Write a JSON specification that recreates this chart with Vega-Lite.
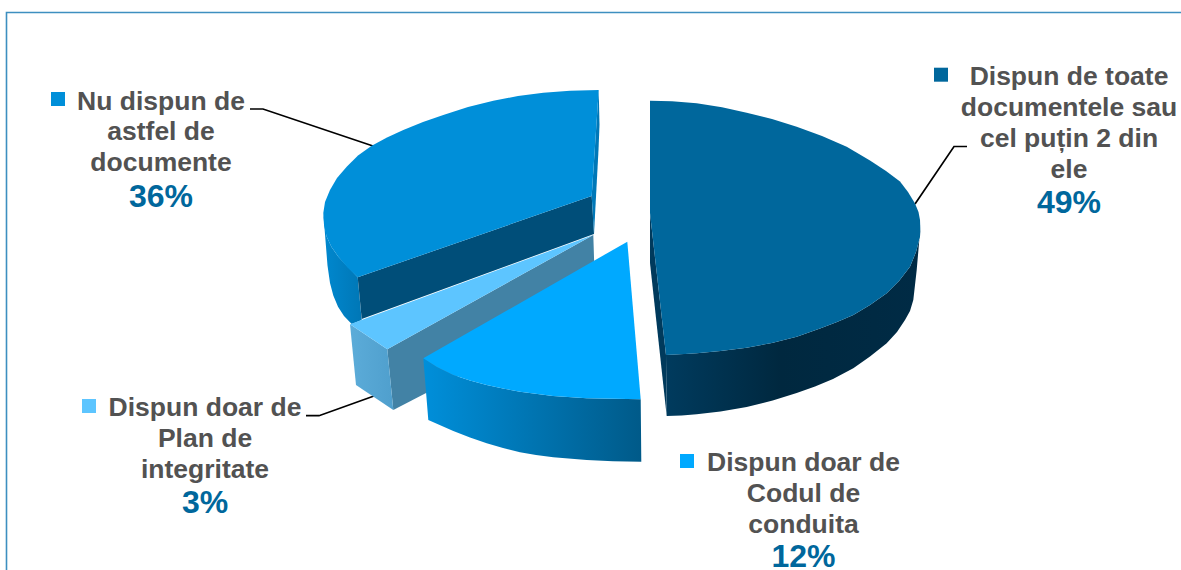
{
  "$schema": "https://vega.github.io/schema/vega-lite/v6.json",
  "width": 1181,
  "height": 570,
  "padding": 0,
  "autosize": {"type": "none"},
  "background": "white",
  "view": {"stroke": null},
  "datasets": {
    "outlines": [
      {"face":"frame","step":0,"x":6.5,"y":570},{"face":"frame","step":1,"x":6.5,"y":12.5},{"face":"frame","step":2,"x":1181,"y":12.5},
      {"face":"lead36","step":0,"x":250,"y":109},{"face":"lead36","step":1,"x":263,"y":109},{"face":"lead36","step":2,"x":373,"y":146},
      {"face":"lead49","step":0,"x":967,"y":146.5},{"face":"lead49","step":1,"x":954,"y":146.5},{"face":"lead49","step":2,"x":915,"y":204},
      {"face":"lead3","step":0,"x":306,"y":415.7},{"face":"lead3","step":1,"x":319,"y":415.7},{"face":"lead3","step":2,"x":374,"y":396},

      {"face":"w36out","step":0,"x":323.3,"y":213},{"face":"w36out","step":1,"x":326.7,"y":236.7},{"face":"w36out","step":2,"x":331.5,"y":247},{"face":"w36out","step":3,"x":338.3,"y":256.7},{"face":"w36out","step":4,"x":357.7,"y":277.3},{"face":"w36out","step":5,"x":361.7,"y":320},{"face":"w36out","step":6,"x":351.7,"y":324},{"face":"w36out","step":7,"x":344,"y":316},{"face":"w36out","step":8,"x":338,"y":306.7},{"face":"w36out","step":9,"x":333.3,"y":295.5},{"face":"w36out","step":10,"x":330,"y":283},{"face":"w36out","step":11,"x":327.5,"y":265.5},{"face":"w36out","step":12,"x":326,"y":246.7},

      {"face":"w36in","step":0,"x":357.7,"y":277.3},{"face":"w36in","step":1,"x":591.7,"y":196},{"face":"w36in","step":2,"x":594,"y":234},{"face":"w36in","step":3,"x":361.7,"y":319},

      {"face":"w36side","step":0,"x":598.7,"y":90},{"face":"w36side","step":1,"x":599.5,"y":125},{"face":"w36side","step":2,"x":598.5,"y":150},{"face":"w36side","step":3,"x":594,"y":234},{"face":"w36side","step":4,"x":591.7,"y":196},

      {"face":"t36","step":0,"x":598.7,"y":90},{"face":"t36","step":1,"x":570,"y":90.8},{"face":"t36","step":2,"x":543.3,"y":92.7},{"face":"t36","step":3,"x":518,"y":96},{"face":"t36","step":4,"x":493.3,"y":100.7},{"face":"t36","step":5,"x":468,"y":107},{"face":"t36","step":6,"x":443.3,"y":115},{"face":"t36","step":7,"x":423,"y":122},{"face":"t36","step":8,"x":403.3,"y":130},{"face":"t36","step":9,"x":387,"y":137.5},{"face":"t36","step":10,"x":371.7,"y":145.7},{"face":"t36","step":11,"x":358,"y":155.5},{"face":"t36","step":12,"x":346.7,"y":166.7},{"face":"t36","step":13,"x":337,"y":178},{"face":"t36","step":14,"x":330,"y":190},{"face":"t36","step":15,"x":325,"y":202},{"face":"t36","step":16,"x":323.3,"y":213},{"face":"t36","step":17,"x":324,"y":225},{"face":"t36","step":18,"x":326.7,"y":236.7},{"face":"t36","step":19,"x":331.5,"y":247},{"face":"t36","step":20,"x":338.3,"y":256.7},{"face":"t36","step":21,"x":347.5,"y":267.5},{"face":"t36","step":22,"x":357.7,"y":277.3},{"face":"t36","step":23,"x":591.7,"y":196},

      {"face":"w3right","step":0,"x":387.3,"y":349.3},{"face":"w3right","step":1,"x":593.3,"y":235},{"face":"w3right","step":2,"x":595.5,"y":305},{"face":"w3right","step":3,"x":393.3,"y":410},

      {"face":"w3front","step":0,"x":350,"y":324.3},{"face":"w3front","step":1,"x":387.3,"y":349.3},{"face":"w3front","step":2,"x":393.3,"y":410},{"face":"w3front","step":3,"x":356,"y":385},

      {"face":"t3","step":0,"x":350,"y":324.3},{"face":"t3","step":1,"x":593.3,"y":235},{"face":"t3","step":2,"x":387.3,"y":349.3},

      {"face":"w12front","step":0,"x":423.3,"y":358.3},{"face":"w12front","step":1,"x":437,"y":367},{"face":"w12front","step":2,"x":453.3,"y":375},{"face":"w12front","step":3,"x":470,"y":380.5},{"face":"w12front","step":4,"x":486.7,"y":385},{"face":"w12front","step":5,"x":503,"y":388.5},{"face":"w12front","step":6,"x":520,"y":391.7},{"face":"w12front","step":7,"x":553,"y":396},{"face":"w12front","step":8,"x":586.7,"y":398.3},{"face":"w12front","step":9,"x":640.7,"y":399.3},{"face":"w12front","step":10,"x":641.3,"y":461.7},{"face":"w12front","step":11,"x":613,"y":461.2},{"face":"w12front","step":12,"x":586.7,"y":460},{"face":"w12front","step":13,"x":553.3,"y":457.3},{"face":"w12front","step":14,"x":536,"y":455},{"face":"w12front","step":15,"x":520,"y":452.3},{"face":"w12front","step":16,"x":503,"y":448},{"face":"w12front","step":17,"x":486.7,"y":443.3},{"face":"w12front","step":18,"x":470,"y":437.5},{"face":"w12front","step":19,"x":453.3,"y":431},{"face":"w12front","step":20,"x":428.3,"y":420},

      {"face":"t12","step":0,"x":423.3,"y":358.3},{"face":"t12","step":1,"x":627.3,"y":241.7},{"face":"t12","step":2,"x":640.7,"y":399.3},{"face":"t12","step":3,"x":586.7,"y":398.3},{"face":"t12","step":4,"x":553,"y":396},{"face":"t12","step":5,"x":520,"y":391.7},{"face":"t12","step":6,"x":503,"y":388.5},{"face":"t12","step":7,"x":486.7,"y":385},{"face":"t12","step":8,"x":470,"y":380.5},{"face":"t12","step":9,"x":453.3,"y":375},{"face":"t12","step":10,"x":437,"y":367},

      {"face":"w49side","step":0,"x":650,"y":213},{"face":"w49side","step":1,"x":650,"y":263},{"face":"w49side","step":2,"x":666.7,"y":416},{"face":"w49side","step":3,"x":666,"y":355},

      {"face":"w49front","step":0,"x":920.3,"y":228},{"face":"w49front","step":1,"x":920,"y":236.7},{"face":"w49front","step":2,"x":916,"y":252},{"face":"w49front","step":3,"x":910,"y":266.7},{"face":"w49front","step":4,"x":899,"y":281},{"face":"w49front","step":5,"x":886.7,"y":293.3},{"face":"w49front","step":6,"x":870,"y":305},{"face":"w49front","step":7,"x":853.3,"y":315},{"face":"w49front","step":8,"x":837,"y":322},{"face":"w49front","step":9,"x":820,"y":328.5},{"face":"w49front","step":10,"x":796.7,"y":336.7},{"face":"w49front","step":11,"x":771.9,"y":342.9},{"face":"w49front","step":12,"x":746.7,"y":347.7},{"face":"w49front","step":13,"x":720.5,"y":351.1},{"face":"w49front","step":14,"x":696.7,"y":353.3},{"face":"w49front","step":15,"x":666,"y":355},{"face":"w49front","step":16,"x":666.7,"y":416},{"face":"w49front","step":17,"x":681.7,"y":415.4},{"face":"w49front","step":18,"x":696.7,"y":414.2},{"face":"w49front","step":19,"x":720.5,"y":411.5},{"face":"w49front","step":20,"x":746.7,"y":407},{"face":"w49front","step":21,"x":772.7,"y":400.5},{"face":"w49front","step":22,"x":796.7,"y":393},{"face":"w49front","step":23,"x":815,"y":386.5},{"face":"w49front","step":24,"x":833,"y":379},{"face":"w49front","step":25,"x":853.3,"y":368.3},{"face":"w49front","step":26,"x":870,"y":356.5},{"face":"w49front","step":27,"x":886.7,"y":343.3},{"face":"w49front","step":28,"x":897,"y":332},{"face":"w49front","step":29,"x":905,"y":320},{"face":"w49front","step":30,"x":910,"y":311},{"face":"w49front","step":31,"x":913.3,"y":300},{"face":"w49front","step":32,"x":915,"y":285},{"face":"w49front","step":33,"x":916.7,"y":270},{"face":"w49front","step":34,"x":918,"y":255},{"face":"w49front","step":35,"x":919.3,"y":240},

      {"face":"t49","step":0,"x":650,"y":100.7},{"face":"t49","step":1,"x":672,"y":101.3},{"face":"t49","step":2,"x":696.7,"y":103.3},{"face":"t49","step":3,"x":722,"y":107.3},{"face":"t49","step":4,"x":746.7,"y":112.7},{"face":"t49","step":5,"x":772,"y":119},{"face":"t49","step":6,"x":796.7,"y":126.7},{"face":"t49","step":7,"x":822,"y":136},{"face":"t49","step":8,"x":846.7,"y":146.7},{"face":"t49","step":9,"x":870,"y":160.5},{"face":"t49","step":10,"x":886,"y":171},{"face":"t49","step":11,"x":900,"y":181.5},{"face":"t49","step":12,"x":908,"y":192},{"face":"t49","step":13,"x":915,"y":203.5},{"face":"t49","step":14,"x":918.5,"y":212},{"face":"t49","step":15,"x":920,"y":220},{"face":"t49","step":16,"x":920.3,"y":228},{"face":"t49","step":17,"x":920,"y":236.7},{"face":"t49","step":18,"x":916,"y":252},{"face":"t49","step":19,"x":910,"y":266.7},{"face":"t49","step":20,"x":899,"y":281},{"face":"t49","step":21,"x":886.7,"y":293.3},{"face":"t49","step":22,"x":870,"y":305},{"face":"t49","step":23,"x":853.3,"y":315},{"face":"t49","step":24,"x":837,"y":322},{"face":"t49","step":25,"x":820,"y":328.5},{"face":"t49","step":26,"x":796.7,"y":336.7},{"face":"t49","step":27,"x":771.9,"y":342.9},{"face":"t49","step":28,"x":746.7,"y":347.7},{"face":"t49","step":29,"x":720.5,"y":351.1},{"face":"t49","step":30,"x":696.7,"y":353.3},{"face":"t49","step":31,"x":681.4,"y":354.2},{"face":"t49","step":32,"x":666,"y":355},{"face":"t49","step":33,"x":650,"y":213}
    ],
    "keys": [
      {"slice":"Dispun de toate documentele","x":941,"y":74.7},
      {"slice":"Nu dispun de astfel de documente","x":58,"y":99},
      {"slice":"Dispun doar de Plan de integritate","x":89,"y":406},
      {"slice":"Dispun doar de Codul de conduita","x":687,"y":461}
    ],
    "captions": [
      {"text":"Dispun de toate","x":1069,"y":85},
      {"text":"documentele sau","x":1069,"y":116},
      {"text":"cel puțin 2 din","x":1069,"y":147},
      {"text":"ele","x":1069,"y":178},
      {"text":"Nu dispun de","x":161,"y":110},
      {"text":"astfel de","x":161,"y":140},
      {"text":"documente","x":161,"y":171},
      {"text":"Dispun doar de","x":205,"y":416},
      {"text":"Plan de","x":205,"y":447},
      {"text":"integritate","x":205,"y":478},
      {"text":"Dispun doar de","x":803.5,"y":471},
      {"text":"Codul de","x":803.5,"y":502},
      {"text":"conduita","x":803.5,"y":533}
    ],
    "shares": [
      {"share":0.49,"x":1069,"y":213},
      {"share":0.36,"x":161,"y":207},
      {"share":0.03,"x":205,"y":513},
      {"share":0.12,"x":803.5,"y":567}
    ]
  },
  "encoding": {
    "x": {"field":"x","type":"quantitative","scale":{"domain":[0,1181],"nice":false,"zero":false},"axis":null},
    "y": {"field":"y","type":"quantitative","scale":{"domain":[570,0],"nice":false,"zero":false},"axis":null},
    "order": {"field":"step","type":"quantitative"}
  },
  "layer": [
    {"data":{"name":"outlines"},"transform":[{"filter":"datum.face==='frame'"}],"mark":{"type":"line","stroke":"#3d8fc0","strokeWidth":1.6}},
    {"data":{"name":"outlines"},"transform":[{"filter":"datum.face==='lead36'||datum.face==='lead49'||datum.face==='lead3'"}],"mark":{"type":"line","stroke":"#000000","strokeWidth":1.7},"encoding":{"detail":{"field":"face"}}},

    {"data":{"name":"outlines"},"transform":[{"filter":"datum.face==='w36out'"}],"mark":{"type":"line","interpolate":"linear-closed","strokeWidth":0,"fill":{"gradient":"linear","x1":0,"x2":1,"y1":0,"y2":0,"stops":[{"offset":0,"color":"#0088cf"},{"offset":1,"color":"#0077b6"}]}}},
    {"data":{"name":"outlines"},"transform":[{"filter":"datum.face==='w36in'"}],"mark":{"type":"line","interpolate":"linear-closed","strokeWidth":0,"fill":"#004e79"}},
    {"data":{"name":"outlines"},"transform":[{"filter":"datum.face==='w36side'"}],"mark":{"type":"line","interpolate":"linear-closed","strokeWidth":0,"fill":"#0078b8"}},
    {"data":{"name":"outlines"},"transform":[{"filter":"datum.face==='t36'"}],"mark":{"type":"line","interpolate":"linear-closed","strokeWidth":0,"fill":"#008fd9"}},

    {"data":{"name":"outlines"},"transform":[{"filter":"datum.face==='w3right'"}],"mark":{"type":"line","interpolate":"linear-closed","strokeWidth":0,"fill":"#4282a5"}},
    {"data":{"name":"outlines"},"transform":[{"filter":"datum.face==='w3front'"}],"mark":{"type":"line","interpolate":"linear-closed","strokeWidth":0,"fill":{"gradient":"linear","x1":0,"x2":1,"y1":0,"y2":0,"stops":[{"offset":0,"color":"#5cacd9"},{"offset":1,"color":"#4f9fcd"}]}}},
    {"data":{"name":"outlines"},"transform":[{"filter":"datum.face==='t3'"}],"mark":{"type":"line","interpolate":"linear-closed","strokeWidth":0,"fill":"#5dc5ff"}},

    {"data":{"name":"outlines"},"transform":[{"filter":"datum.face==='w12front'"}],"mark":{"type":"line","interpolate":"linear-closed","strokeWidth":0,"fill":{"gradient":"linear","x1":0,"x2":1,"y1":0,"y2":0,"stops":[{"offset":0,"color":"#008fda"},{"offset":1,"color":"#005a89"}]}}},
    {"data":{"name":"outlines"},"transform":[{"filter":"datum.face==='t12'"}],"mark":{"type":"line","interpolate":"linear-closed","strokeWidth":0,"fill":"#00a9ff"}},

    {"data":{"name":"outlines"},"transform":[{"filter":"datum.face==='w49side'"}],"mark":{"type":"line","interpolate":"linear-closed","strokeWidth":0,"fill":"#003a5c"}},
    {"data":{"name":"outlines"},"transform":[{"filter":"datum.face==='w49front'"}],"mark":{"type":"line","interpolate":"linear-closed","strokeWidth":0,"fill":{"gradient":"linear","x1":0,"x2":1,"y1":0,"y2":0,"stops":[{"offset":0,"color":"#003b5e"},{"offset":0.45,"color":"#00283f"},{"offset":1,"color":"#002b45"}]}}},
    {"data":{"name":"outlines"},"transform":[{"filter":"datum.face==='t49'"}],"mark":{"type":"line","interpolate":"linear-closed","strokeWidth":0,"fill":"#00679c"}},

    {"data":{"name":"keys"},"mark":{"type":"point","shape":"square","filled":true,"size":196,"opacity":1},
      "encoding":{"order":{"value":null},"color":{"field":"slice","type":"nominal","legend":null,"scale":{"domain":["Dispun de toate documentele","Nu dispun de astfel de documente","Dispun doar de Plan de integritate","Dispun doar de Codul de conduita"],"range":["#00679c","#008fd9","#5dc5ff","#00a9ff"]}}}},
    {"data":{"name":"captions"},"mark":{"type":"text","font":"Liberation Sans","fontWeight":"bold","fontSize":26.5,"fill":"#525252","align":"center","baseline":"alphabetic"},"encoding":{"order":{"value":null},"text":{"field":"text","type":"nominal"}}},
    {"data":{"name":"shares"},"mark":{"type":"text","font":"Liberation Sans","fontWeight":"bold","fontSize":32,"fill":"#00679c","align":"center","baseline":"alphabetic"},"encoding":{"order":{"value":null},"text":{"field":"share","type":"quantitative","format":".0%"}}}
  ]
}
